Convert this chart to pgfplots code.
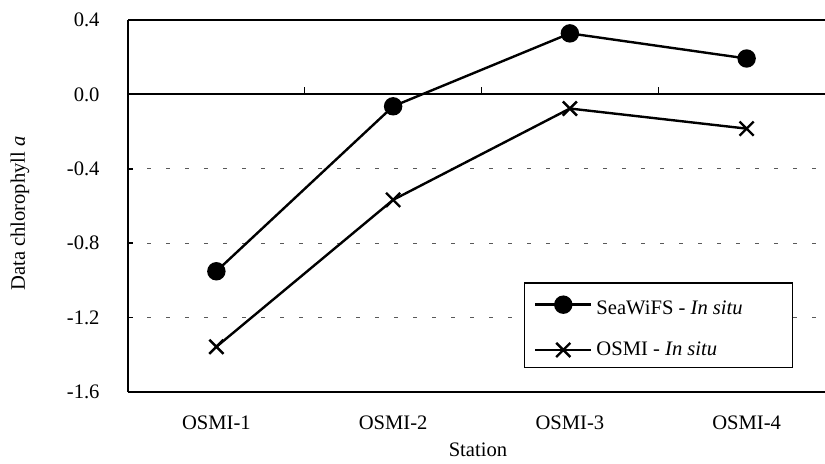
\documentclass[border=0pt]{standalone}
\usepackage{pgfplots}
\pgfplotsset{compat=1.18}
\usepackage{fontspec}
\setmainfont{Liberation Serif}
\begin{document}
\fontsize{10.3bp}{12bp}\selectfont
\begin{tikzpicture}
\begin{axis}[
  scale only axis,
  width=353.5bp, height=186bp,
  xmin=-0.5, xmax=3.5,
  ymin=-1.6, ymax=0.4,
  axis y line*=left,
  axis line style={line width=1bp},
  xtick={0,1,2,3},
  xticklabels={OSMI-1,OSMI-2,OSMI-3,OSMI-4},
  xtick style={draw=none},
  xticklabel style={anchor=north, yshift=-8.5bp},
  ytick={-1.6,-1.2,-0.8,-0.4,0,0.4},
  yticklabels={-1.6,-1.2,-0.8,-0.4,0.0,0.4},
  ytick style={line width=0.8bp, black},
  major tick length=2.5bp,
  tick align=inside,
  yticklabel style={anchor=east, xshift=-10.6bp},
  ymajorgrids,
  major grid style={black!65, line width=0.6bp, dash pattern=on 2bp off 7.5bp},
  xlabel={Station},
  xlabel style={at={(rel axis cs:0.495,0)}, anchor=north, yshift=-22bp},
  ylabel={Data chlorophyll \textit{a}},
  ylabel style={at={(rel axis cs:-0.1530,0.48)}, anchor=center},
  legend cell align=left,
  legend style={at={(rel axis cs:0.9406,0.0645)}, anchor=south east,
    draw=black, line width=0.7bp, inner xsep=4.8bp, inner ysep=2.5bp,
    row sep=8.2bp, font=\fontsize{10.3bp}{12bp}\selectfont},
  legend image code/.code={\draw[mark repeat=2,mark phase=2] plot coordinates {(0bp,0bp) (14bp,0bp) (28bp,0bp)};},
]
\draw[black, line width=1bp] (axis cs:-0.5,0) -- (axis cs:3.5,0);
\draw[black, line width=0.7bp] (axis cs:0.5,0) -- ([yshift=3.5bp]axis cs:0.5,0);
\draw[black, line width=0.7bp] (axis cs:1.5,0) -- ([yshift=3.5bp]axis cs:1.5,0);
\draw[black, line width=0.7bp] (axis cs:2.5,0) -- ([yshift=3.5bp]axis cs:2.5,0);
\addplot[black, line width=1.2bp, mark=*, mark size=4bp, mark options={solid, fill=black}]
  coordinates {(0,-0.951) (1,-0.064) (2,0.328) (3,0.193)};
\addlegendentry{\rule{0bp}{11bp}SeaWiFS - \textit{In situ}\hspace*{18bp}}
\addplot[black, line width=1.2bp, mark=x, mark size=5bp, mark options={solid, line width=1.2bp}]
  coordinates {(0,-1.357) (1,-0.567) (2,-0.076) (3,-0.184)};
\addlegendentry{OSMI - \textit{In situ}}
\coordinate (bl) at (rel axis cs:0,0);
\coordinate (tr) at (rel axis cs:0.98586,1);
\end{axis}
\pgfresetboundingbox
\path[use as bounding box] ([shift={(-64bp,-36bp)}]bl) rectangle ([shift={(0bp,10bp)}]tr);
\end{tikzpicture}
\end{document}
